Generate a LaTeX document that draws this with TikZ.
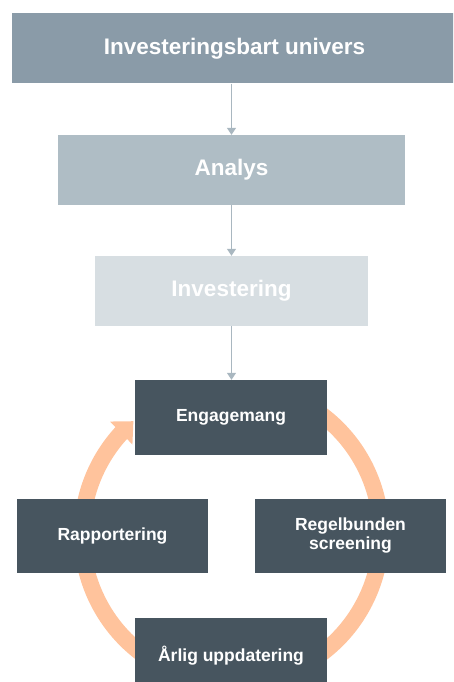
\documentclass[tikz,border=0pt]{standalone}
\usepackage{fontspec}
\setmainfont{Liberation Sans}
\usetikzlibrary{arrows.meta,bending}

\definecolor{topgray}{HTML}{8A9BA8}
\definecolor{midgray}{HTML}{AFBDC5}
\definecolor{lightgray}{HTML}{D7DEE2}
\definecolor{slate}{HTML}{47555F}
\definecolor{peach}{HTML}{FFC39C}
\definecolor{linkgray}{HTML}{A9B7C0}

\tikzset{
  stage/.style={fill=#1, inner sep=0pt, text=white,
    font=\fontsize{22.5}{26}\selectfont\bfseries, minimum height=70},
  cyclebox/.style={fill=slate, inner sep=0pt, text=white, align=center,
    font=\fontsize{17.5}{19}\selectfont\bfseries,
    minimum width=192, minimum height=75},
  link/.style={draw=linkgray, line width=1.3pt,
    -{Triangle[width=9pt,length=7pt]}},
  loop/.style={draw=peach, line width=16.5pt,
    -{Triangle[width=31pt,length=17pt,flex]}}
}

\begin{document}
\begin{tikzpicture}[x=1pt,y=-1pt]
  \useasboundingbox (0,0) rectangle (453,682);
  \clip (0,0) rectangle (453,682);

  % cycle ring behind the four process boxes
  \coordinate (cc) at (231.5,534);
  \draw[loop] ([shift={(-60:149.5)}]cc) arc[start angle=-60, end angle=229, radius=149.5];

  % funnel stages
  \node[stage=topgray, minimum width=445] (univ) at (234.5,48.5) {Investeringsbart univers};
  \node[stage=midgray, minimum width=347] (analys) at (231.5,170) {Analys};
  \node[stage=lightgray, minimum width=273] (invest) at (231.5,291) {Investering};

  % ongoing process cycle
  \node[cyclebox] (engage) at (231,417.5) {Engagemang};
  \node[cyclebox, minimum width=191, minimum height=74] (report) at (112.5,536) {Rapportering};
  \node[cyclebox, minimum width=191, minimum height=74] (screen) at (350.5,536) {Regelbunden\\screening};
  \node[cyclebox] (update) at (231,655.5) {Årlig uppdatering};

  % links between the stages
  \draw[link] (analys.north |- univ.south) -- (analys.north);
  \draw[link] (analys.south) -- (invest.north);
  \draw[link] (invest.south) -- (invest.south |- engage.north);
\end{tikzpicture}
\end{document}
